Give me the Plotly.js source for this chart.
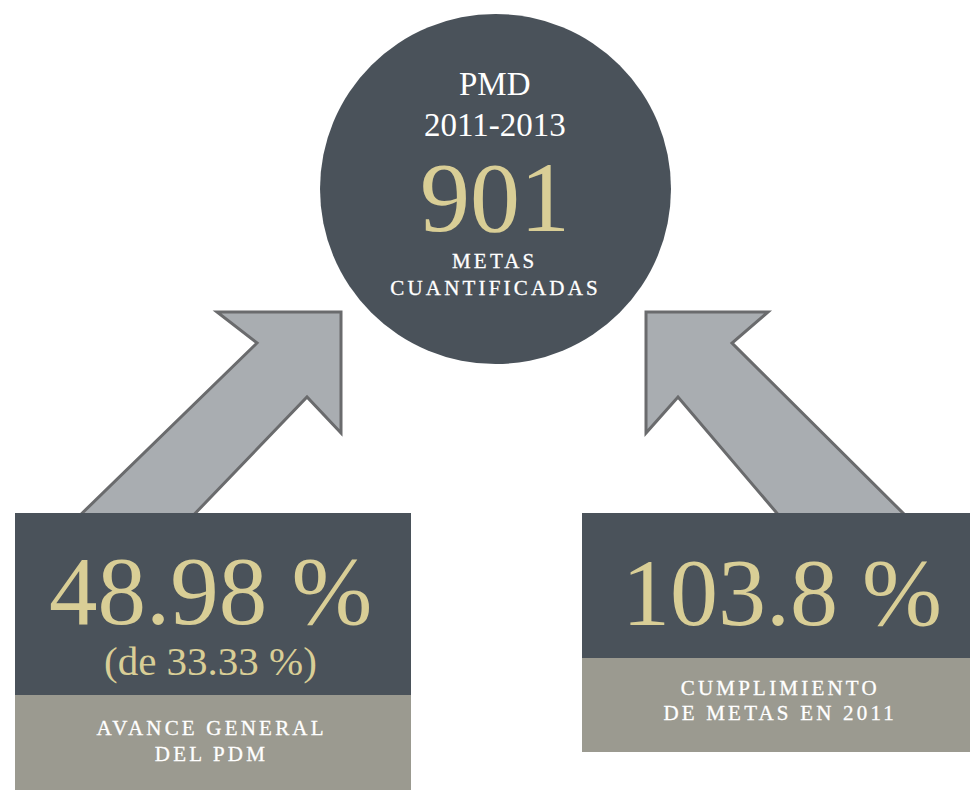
<!DOCTYPE html>
<html>
<head>
<meta charset="utf-8">
<script src="https://cdn.plot.ly/plotly-3.0.1.min.js"></script>
<style>
  html, body { margin: 0; padding: 0; background: #ffffff; }
  #chart { width: 970px; height: 790px; }
</style>
</head>
<body>
<div id="chart"></div>
<script>
// ---- data ----
const centerTitle = ["PMD", "2011-2013"];
const centerValue = ["901"];
const centerLabel = ["METAS", "CUANTIFICADAS"];
const leftValue = ["48.98 %"];
const leftSub = ["(de 33.33 %)"];
const leftLabel = ["AVANCE GENERAL", "DEL PDM"];
const rightValue = ["103.8 %"];
const rightLabel = ["CUMPLIMIENTO", "DE METAS EN 2011"];

// ---- styles ----
const DARK = "#4a525a";
const GOLD = "#d9ce96";
const GREY = "#9b9a90";
const ARROW_FILL = "#a9adb1";
const ARROW_LINE = "#6a6b6d";
const SERIF = "'Liberation Serif', 'DejaVu Serif', serif";

function pathFrom(pts) {
  return "M " + pts.map(p => p[0] + "," + p[1]).join(" L ") + " Z";
}

const leftArrow = [[70, 525], [257, 343], [217, 312], [341, 312], [341, 433], [307, 397], [184, 525]];
const rightArrow = [[915, 525], [732, 343], [768, 312], [646, 312], [646, 433], [678, 397], [787, 525]];

const shapes = [
  {type: "path", xref: "x", yref: "y", path: pathFrom(leftArrow), fillcolor: ARROW_FILL, line: {color: ARROW_LINE, width: 3}},
  {type: "path", xref: "x", yref: "y", path: pathFrom(rightArrow), fillcolor: ARROW_FILL, line: {color: ARROW_LINE, width: 3}},
  {type: "circle", xref: "x", yref: "y", x0: 320, x1: 671, y0: 14, y1: 364, fillcolor: DARK, line: {width: 0}},
  {type: "rect", xref: "x", yref: "y", x0: 15, x1: 411, y0: 513, y1: 695, fillcolor: DARK, line: {width: 0}},
  {type: "rect", xref: "x", yref: "y", x0: 15, x1: 411, y0: 695, y1: 790, fillcolor: GREY, line: {width: 0}},
  {type: "rect", xref: "x", yref: "y", x0: 582, x1: 970, y0: 513, y1: 658, fillcolor: DARK, line: {width: 0}},
  {type: "rect", xref: "x", yref: "y", x0: 582, x1: 970, y0: 658, y1: 752, fillcolor: GREY, line: {width: 0}}
];

function ann(text, x, y, size, color) {
  return {text: text, x: x, y: y, xref: "x", yref: "y", showarrow: false,
          xanchor: "center", yanchor: "middle", align: "center",
          font: {family: SERIF, size: size, color: color}};
}

const annotations = [
  ann(centerTitle[0], 495, 84, 33, "#ffffff"),
  ann(centerTitle[1], 495, 125, 33, "#ffffff"),
  ann(centerValue[0], 495, 197, 100, GOLD),
  ann(centerLabel[0], 495, 261, 21, "#ffffff"),
  ann(centerLabel[1], 495, 288, 21, "#ffffff"),
  ann(leftValue[0], 210, 591, 97, GOLD),
  ann(leftSub[0], 210, 661, 41, GOLD),
  ann(leftLabel[0], 211, 728, 21, "#ffffff"),
  ann(leftLabel[1], 211, 754, 21, "#ffffff"),
  ann(rightValue[0], 782, 592, 96, GOLD),
  ann(rightLabel[0], 780, 688, 21, "#ffffff"),
  ann(rightLabel[1], 780, 713, 21, "#ffffff")
];

const layout = {
  width: 970, height: 790,
  margin: {l: 0, r: 0, t: 0, b: 0},
  paper_bgcolor: "#ffffff", plot_bgcolor: "#ffffff",
  xaxis: {range: [0, 970], visible: false, fixedrange: true},
  yaxis: {range: [790, 0], visible: false, fixedrange: true},
  showlegend: false,
  shapes: shapes,
  annotations: annotations
};

const spaced = new Set(centerLabel.concat(leftLabel, rightLabel));

Plotly.newPlot("chart", [{x: [], y: [], type: "scatter", mode: "markers"}], layout,
  {displayModeBar: false, staticPlot: true}).then(function (gd) {
  gd.querySelectorAll(".annotation-text").forEach(function (t) {
    if (spaced.has(t.textContent)) {
      t.style.letterSpacing = "3.2px";
      t.style.fontWeight = "500";
      t.style.stroke = "#ffffff";
      t.style.strokeWidth = "0.3px";
    }
  });
});
</script>
</body>
</html>
